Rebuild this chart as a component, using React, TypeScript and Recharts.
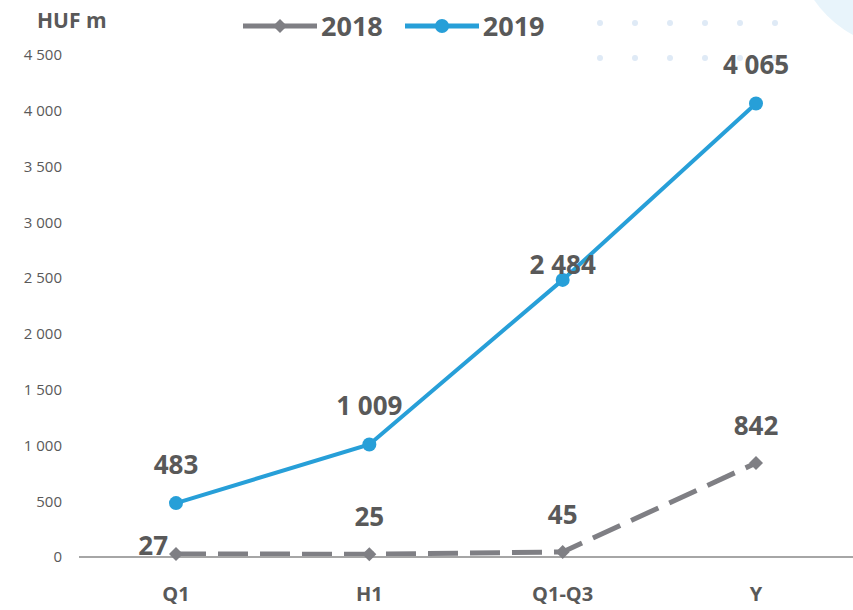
import React from "react"
import { LineChart, Line, XAxis, YAxis, LabelList } from "recharts"

const periods = ["Q1", "H1", "Q1-Q3", "Y"]
const values2018 = [27, 25, 45, 842]
const values2019 = [483, 1009, 2484, 4065]
const yTicks = [0, 500, 1000, 1500, 2000, 2500, 3000, 3500, 4000, 4500]

const data = periods.map((p, i) => ({ name: p, y2018: values2018[i], y2019: values2019[i] }))

const GRAY = "#7f7f84"
const BLUE = "#279fd8"
const TEXT = "#595959"
const FONT = "'Open Sans', 'Noto Sans', sans-serif"

const fmt = (v: number) => String(v).replace(/\B(?=(\d{3})+(?!\d))/g, " ")

const Diamond = (props: any) => {
  const { cx, cy } = props
  if (cx == null || cy == null) return null
  const s = 7
  return <path d={`M${cx},${cy - s}L${cx + s},${cy}L${cx},${cy + s}L${cx - s},${cy}Z`} fill={GRAY} />
}

const label2018 = (props: any) => {
  const { x, y, value, index } = props
  const left = index === 0
  return (
    <text
      x={left ? x - 8 : x}
      y={left ? y - 6 : y - 35}
      textAnchor={left ? "end" : "middle"}
      dominantBaseline="middle"
      fill={TEXT}
      fontSize={26}
      fontWeight={700}
      fontFamily={FONT}
    >
      {fmt(value)}
    </text>
  )
}

const label2019 = (props: any) => {
  const { x, y, value, index } = props
  const dy = index === 2 ? -13 : -36
  return (
    <text x={x} y={y + dy} textAnchor="middle" dominantBaseline="middle" fill={TEXT} fontSize={26} fontWeight={700} fontFamily={FONT}>
      {fmt(value)}
    </text>
  )
}

const XTick = (props: any) => {
  const { x, y, payload } = props
  return (
    <text x={x} y={y + 31} textAnchor="middle" dominantBaseline="middle" fill={TEXT} fontSize={20} fontWeight={700} fontFamily={FONT}>
      {payload.value}
    </text>
  )
}

const LegendBox = () => (
  <div style={{ position: "absolute", left: 243, top: 11, display: "flex", alignItems: "center", fontFamily: FONT, fontWeight: 700, fontSize: 27, color: TEXT, lineHeight: "30px" }}>
    <svg width={74} height={20}>
      <line x1={0} y1={10} x2={74} y2={10} stroke={GRAY} strokeWidth={5} />
      <path d="M37,3L44,10L37,17L30,10Z" fill={GRAY} />
    </svg>
    <span style={{ marginLeft: 4, marginRight: 22 }}>2018</span>
    <svg width={74} height={20}>
      <line x1={0} y1={10} x2={74} y2={10} stroke={BLUE} strokeWidth={5} strokeLinecap="round" />
      <circle cx={37} cy={10} r={7} fill={BLUE} />
    </svg>
    <span style={{ marginLeft: 4 }}>2019</span>
  </div>
)

const dotCols = [600, 635, 670, 705, 740, 775]
const dotRows = [23, 58]

export default function App() {
  return (
    <div style={{ position: "absolute", left: 0, top: 0, width: 853, height: 610, overflow: "hidden", background: "#fff" }}>
      <svg width={853} height={610} style={{ position: "absolute", left: 0, top: 0 }}>
        <circle cx={905} cy={-62} r={110} fill="#e8f4fb" />
        {dotRows.map((ry) => dotCols.map((cx) => <circle key={`${cx}-${ry}`} cx={cx} cy={ry} r={3} fill="#dfeaf6" />))}
      </svg>
      <div style={{ position: "absolute", left: 37, top: 6, fontFamily: FONT, fontWeight: 700, fontSize: 21, color: TEXT }}>HUF m</div>
      <LegendBox />
      <div style={{ position: "absolute", left: 0, top: 0 }}>
        <LineChart width={853} height={610} data={data} margin={{ top: 55, right: 0, bottom: 0, left: 0 }}>
          <XAxis
            dataKey="name"
            axisLine={{ stroke: "#a6a6a6", strokeWidth: 2 }}
            tickLine={false}
            height={53}
            tick={<XTick />}
            interval={0}
            padding={{ left: 97, right: 97 }}
          />
          <YAxis
            domain={[0, 4500]}
            ticks={yTicks}
            axisLine={false}
            tickLine={false}
            width={79}
            tickMargin={11}
            tickFormatter={fmt}
            tick={{ fill: TEXT, fontSize: 15, fontFamily: FONT }}
          />
          <Line
            dataKey="y2018"
            stroke={GRAY}
            strokeWidth={5}
            strokeDasharray="30 12"
            dot={<Diamond />}
            activeDot={false}
            isAnimationActive={false}
          >
            <LabelList dataKey="y2018" content={label2018} />
          </Line>
          <Line
            dataKey="y2019"
            stroke={BLUE}
            strokeWidth={4}
            dot={{ r: 7, fill: BLUE, stroke: BLUE, strokeWidth: 0 }}
            activeDot={false}
            isAnimationActive={false}
          >
            <LabelList dataKey="y2019" content={label2019} />
          </Line>
        </LineChart>
      </div>
    </div>
  )
}
